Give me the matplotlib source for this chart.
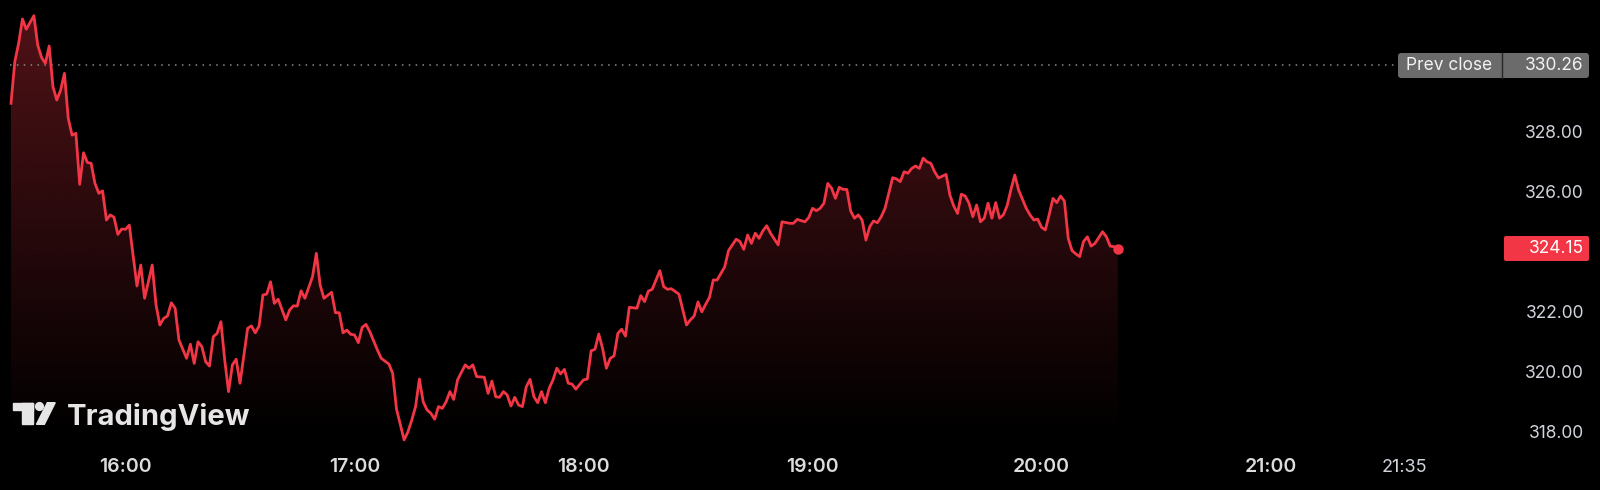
import numpy as np
import matplotlib
matplotlib.use("Agg")
import matplotlib.pyplot as plt
import matplotlib.transforms as mtransforms
from matplotlib.patches import FancyBboxPatch, Polygon, Circle, Rectangle

# minutes after 15:30 and last price
minutes = [0, 1, 2, 3, 4, 6, 7, 8, 9, 10,
           11, 12, 13, 14, 15, 16, 17, 18, 19, 20,
           21, 22, 23, 24, 25, 26, 27, 28, 29, 30,
           31, 33, 34, 35, 37, 38, 39, 40, 41, 42,
           43, 44, 46, 47, 48, 49, 50, 51, 52, 53,
           54, 55, 56, 57, 58, 59, 60, 62, 63, 64,
           65, 66, 67, 68, 69, 70, 72, 73, 74, 75,
           76, 77, 79, 80, 81, 82, 84, 85, 86, 87,
           88, 89, 90, 91, 92, 93, 94, 96, 97, 99,
           100, 101, 103, 104, 105, 106, 107, 108, 109, 110,
           111, 112, 113, 114, 115, 116, 117, 119, 120, 121,
           122, 124, 125, 126, 127, 128, 129, 130, 131, 132,
           133, 134, 135, 136, 137, 138, 139, 140, 141, 142,
           143, 144, 145, 146, 147, 148, 149, 150, 151, 152,
           153, 154, 155, 156, 157, 158, 159, 160, 161, 162,
           164, 165, 166, 167, 168, 170, 171, 172, 173, 175,
           177, 178, 179, 180, 181, 182, 183, 184, 185, 187,
           188, 190, 191, 192, 193, 194, 195, 196, 197, 198,
           199, 201, 202, 204, 205, 206, 208, 209, 210, 211,
           212, 213, 214, 215, 216, 217, 218, 219, 220, 221,
           222, 223, 224, 225, 226, 227, 228, 229, 231, 232,
           233, 234, 235, 236, 237, 238, 239, 240, 241, 242,
           243, 245, 246, 247, 248, 249, 250, 251, 252, 253,
           254, 255, 256, 257, 258, 259, 260, 261, 262, 263,
           264, 266, 267, 268, 269, 270, 271, 272, 273, 274,
           275, 276, 277, 278, 279, 280, 281, 282, 283, 284,
           286, 287, 288, 289, 290]
prices = [328.99, 330.38, 330.99, 331.80, 331.46, 331.91, 330.93, 330.52, 330.32, 330.90,
          329.54, 329.10, 329.43, 329.99, 328.49, 327.93, 327.99, 326.29, 327.34, 327.02,
          326.99, 326.32, 325.99, 326.07, 325.10, 325.27, 325.19, 324.62, 324.80, 324.79,
          324.93, 322.90, 323.60, 322.49, 323.60, 322.27, 321.60, 321.82, 321.90, 322.34,
          322.16, 321.10, 320.49, 320.96, 320.32, 321.04, 320.88, 320.38, 320.23, 321.21,
          321.32, 321.71, 320.43, 319.38, 320.27, 320.46, 319.66, 321.49, 321.57, 321.34,
          321.57, 322.60, 322.63, 323.04, 322.32, 322.46, 321.77, 322.10, 322.24, 322.23,
          322.74, 322.49, 323.21, 323.99, 322.93, 322.49, 322.69, 322.01, 322.01, 321.34,
          321.43, 321.29, 321.27, 321.01, 321.52, 321.62, 321.38, 320.77, 320.49, 320.30,
          319.99, 318.80, 317.77, 318.04, 318.43, 318.88, 319.80, 319.04, 318.77, 318.66,
          318.46, 318.88, 318.82, 319.04, 319.38, 319.12, 319.77, 320.27, 320.16, 320.27,
          319.88, 319.86, 319.32, 319.73, 319.21, 319.19, 319.38, 319.27, 318.90, 319.19,
          318.93, 318.88, 319.54, 319.79, 319.21, 319.01, 319.38, 319.01, 319.49, 319.77,
          320.16, 319.97, 320.12, 319.66, 319.63, 319.46, 319.62, 319.77, 319.80, 320.74,
          320.79, 321.30, 320.82, 320.16, 320.49, 320.57, 321.32, 321.46, 321.23, 322.19,
          322.16, 322.58, 322.38, 322.73, 322.79, 323.41, 322.88, 322.79, 322.81, 322.63,
          321.60, 321.77, 321.90, 322.37, 322.04, 322.29, 322.52, 323.10, 323.10, 323.54,
          324.08, 324.46, 324.38, 324.12, 324.60, 324.32, 324.66, 324.49, 324.74, 324.91,
          324.66, 324.27, 325.04, 324.99, 324.99, 325.12, 325.04, 325.18, 325.49, 325.41,
          325.49, 325.66, 326.32, 326.16, 325.82, 326.19, 326.12, 326.12, 325.40, 325.16,
          325.27, 325.10, 324.43, 324.88, 325.07, 325.01, 325.21, 325.49, 326.51, 326.47,
          326.38, 326.71, 326.66, 326.82, 326.90, 326.82, 327.16, 327.04, 326.99, 326.71,
          326.50, 326.62, 325.93, 325.57, 325.32, 325.96, 325.90, 325.66, 325.21, 325.60,
          325.04, 325.16, 325.66, 325.16, 325.68, 325.16, 325.27, 325.58, 326.12, 326.60,
          326.10, 325.49, 325.27, 325.10, 325.13, 324.86, 324.77, 325.27, 325.82, 325.68,
          325.90, 325.73, 324.49, 324.08, 323.97, 323.88, 324.38, 324.54, 324.23, 324.32,
          324.71, 324.54, 324.23, 324.21, 324.15]

prev_close = 330.26
last_price = 324.15
# 324.00 sits under the last-price tag, so it is not drawn
price_ticks = [318, 320, 322, 326, 328, 330]
time_labels = ["16:00", "17:00", "18:00", "19:00", "20:00", "21:00", "21:35"]

RED = "#f23645"
GRID_TXT = "#d1d4dc"
FONT = ["Inter", "DejaVu Sans"]

W, H = 1600, 490
fig = plt.figure(figsize=(W / 100, H / 100), dpi=100, facecolor="black")
ax = fig.add_axes([0, 0, 1, 1])
ax.set_facecolor("black")
ax.axis("off")

# pixel scale of the original chart
px_min = 229 / 60.0      # pixels per minute
px_unit = 30.0           # pixels per price unit
x0, y318 = 11, 433
ax.set_xlim(-x0 / px_min, (W - x0) / px_min)
ax.set_ylim(318 - (H - y318) / px_unit, 318 + y318 / px_unit)

x = np.array(minutes, dtype=float)
y = np.array(prices)

# gradient fill under the line
base = 317.7
fill = ax.fill_between(x, y, base, color="none", lw=0)
top = y.max()
grad = np.zeros((256, 2, 4))
alpha = np.linspace(0.0, 0.33, 256)[:, None]
grad[..., 0] = 242 / 255
grad[..., 1] = 54 / 255
grad[..., 2] = 69 / 255
grad[..., 3] = alpha
im = ax.imshow(grad, extent=[x.min(), x.max(), base, top], origin="lower",
               aspect="auto", zorder=1, interpolation="bilinear")
im.set_clip_path(fill.get_paths()[0], transform=ax.transData)

ax.plot(x, y, color=RED, lw=2.0, zorder=3, solid_joinstyle="round")
ax.plot(x[-1], y[-1], "o", color=RED, ms=6.5, zorder=4)

# pixel helper (top-left origin)
pix = mtransforms.Affine2D().scale(1 / W, -1 / H).translate(0, 1) + fig.transFigure
ydata_xpix = mtransforms.blended_transform_factory(
    mtransforms.Affine2D().scale(1 / W, 1) + fig.transFigure, ax.transData)

# previous close dotted line
ax.plot([10, 1398], [prev_close, prev_close], transform=ydata_xpix,
        color="#8a8a8a", lw=1.1, dashes=(1, 3.5), zorder=2)

# price scale
RX = 1584
for v in price_ticks:
    ax.text(RX, v, f"{v:.2f}", transform=ydata_xpix, ha="right", va="center",
            color=GRID_TXT, fontsize=12.5, family=FONT, zorder=5)

# time scale
start = 15 * 60 + 30
xt = mtransforms.blended_transform_factory(ax.transData, pix)
for lab in time_labels:
    hh, mm = map(int, lab.split(":"))
    m = hh * 60 + mm - start
    bold = mm == 0
    ax.text(m, 467, lab, transform=xt, ha="center", va="center",
            color="#dcdcdc" if bold else GRID_TXT,
            fontsize=14 if bold else 13, family=FONT,
            fontweight="semibold" if bold else "normal")

# prev close label
box = FancyBboxPatch((1398, 53), 191, 25, boxstyle="round,pad=0,rounding_size=3",
                     transform=pix, facecolor="#6b6b6b", edgecolor="none", zorder=6)
ax.add_patch(box)
ax.plot([1502, 1502], [53, 78], transform=pix, color="#262626", lw=1, zorder=7)
ax.text(1406, prev_close, "Prev close", transform=ydata_xpix, ha="left", va="center",
        color="#f2f2f2", fontsize=12.5, family=FONT, zorder=8)
ax.text(RX, prev_close, f"{prev_close:.2f}", transform=ydata_xpix, ha="right",
        va="center", color="#f2f2f2", fontsize=12.5, family=FONT, zorder=8)

# last price label
lbox = FancyBboxPatch((1504, 236), 85, 25, boxstyle="round,pad=0,rounding_size=2",
                      transform=pix, facecolor=RED, edgecolor="none", zorder=6)
ax.add_patch(lbox)
ax.text(RX, last_price, f"{last_price:.2f}", transform=ydata_xpix, ha="right",
        va="center", color="white", fontsize=12.5, family=FONT, zorder=8)

# TradingView watermark
logo_c = "#e6e6e6"
ax.add_patch(Rectangle((13.3, 402.7), 20, 7.6, transform=pix, color=logo_c, zorder=6))
ax.add_patch(Rectangle((21.7, 402.7), 11.6, 21.6, transform=pix, color=logo_c, zorder=6))
ax.add_patch(Circle((39.5, 406.5), 3.9, transform=pix, color=logo_c, zorder=6))
ax.add_patch(Polygon([(36.5, 424.3), (47.3, 402.7), (55.2, 402.7), (44.4, 424.3)],
                     closed=True, transform=pix, color=logo_c, zorder=6))
ax.text(67, 424.5, "TradingView", transform=pix, ha="left", va="baseline",
        color=logo_c, fontsize=21, family=FONT, fontweight="bold", zorder=6)

fig.savefig("out.png", dpi=100, facecolor="black")
